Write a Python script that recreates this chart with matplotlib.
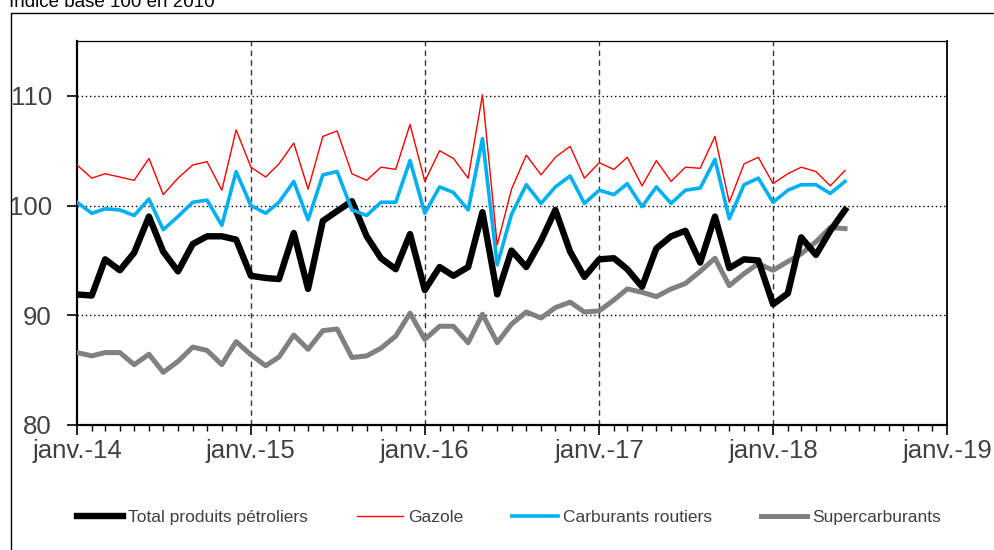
import matplotlib
matplotlib.use("Agg")
import matplotlib.pyplot as plt
import matplotlib.dates as mdates
from matplotlib.lines import Line2D
import pandas as pd

plt.rcParams['font.family'] = ['Liberation Sans', 'DejaVu Sans']

months = pd.date_range('2014-01-01', periods=54, freq='MS')

total = [91.9, 91.8, 95.1, 94.1, 95.7, 99.0, 95.8, 94.0, 96.5, 97.2, 97.2, 96.9,
         93.6, 93.4, 93.3, 97.5, 92.4, 98.6, 99.5, 100.4, 97.2, 95.2, 94.2, 97.4,
         92.3, 94.4, 93.6, 94.4, 99.4, 91.9, 95.9, 94.4, 96.8, 99.6, 95.8, 93.5,
         95.1, 95.2, 94.2, 92.6, 96.1, 97.2, 97.7, 94.8, 99.0, 94.3, 95.1, 95.0,
         91.0, 92.0, 97.1, 95.5, 97.7, 99.6]
gazole = [103.7, 102.5, 102.9, 102.6, 102.3, 104.3, 101.0, 102.5, 103.7, 104.0, 101.4, 106.9,
          103.5, 102.6, 103.8, 105.7, 101.5, 106.3, 106.8, 102.9, 102.3, 103.5, 103.3, 107.4,
          102.2, 105.0, 104.3, 102.5, 110.1, 96.4, 101.5, 104.6, 102.8, 104.4, 105.4, 102.5,
          103.9, 103.3, 104.4, 101.8, 104.1, 102.2, 103.5, 103.4, 106.3, 100.3, 103.8, 104.4,
          102.0, 102.9, 103.5, 103.1, 101.8, 103.2]
routiers = [100.3, 99.3, 99.7, 99.6, 99.1, 100.6, 97.8, 99.0, 100.3, 100.5, 98.2, 103.1,
            100.0, 99.3, 100.3, 102.2, 98.7, 102.8, 103.1, 99.6, 99.1, 100.3, 100.3, 104.1,
            99.3, 101.7, 101.2, 99.6, 106.1, 94.6, 99.2, 101.9, 100.2, 101.7, 102.7, 100.2,
            101.4, 101.0, 102.0, 99.9, 101.7, 100.2, 101.4, 101.6, 104.2, 98.8, 101.9, 102.5,
            100.3, 101.4, 101.9, 101.9, 101.1, 102.2]
super_c = [86.6, 86.3, 86.6, 86.6, 85.5, 86.45, 84.8, 85.8, 87.1, 86.8, 85.5, 87.6,
           86.4, 85.4, 86.2, 88.2, 86.9, 88.6, 88.75, 86.15, 86.3, 87.0, 88.1, 90.2,
           87.8, 89.0, 89.0, 87.5, 90.1, 87.5, 89.2, 90.3, 89.75, 90.7, 91.2, 90.3,
           90.4, 91.4, 92.4, 92.1, 91.7, 92.4, 92.9, 94.0, 95.2, 92.7, 93.8, 94.7,
           94.1, 94.9, 95.6, 96.7, 98.0, 97.9]

labels = ["Total produits pétroliers", "Gazole", "Carburants routiers", "Supercarburants"]
text_color = "#404040"

fig = plt.figure(figsize=(9.95, 5.5), dpi=100)
ax = fig.add_axes([77 / 995, 1 - 425 / 550, (947 - 77) / 995, (425 - 41) / 550])

l1, = ax.plot(months, total, color="black", lw=4.6, zorder=4)
l2, = ax.plot(months, gazole, color="#ff0000", lw=1.0, zorder=5)
l3, = ax.plot(months, routiers, color="#00b0f0", lw=2.6, zorder=4)
l4, = ax.plot(months, super_c, color="#808080", lw=3.6, zorder=3)

ax.set_ylim(80, 115)
ax.set_yticks([80, 90, 100, 110])
ax.set_xlim(pd.Timestamp('2014-01-01'), pd.Timestamp('2019-01-01'))
ax.xaxis.set_major_locator(mdates.YearLocator())
ax.xaxis.set_minor_locator(mdates.MonthLocator())
ax.xaxis.set_major_formatter(mdates.DateFormatter('janv.-%y'))

for y in [90, 100, 110]:
    ax.axhline(y, color="black", lw=1.0, ls=(0, (1, 2)), zorder=1)
for yr in range(2015, 2019):
    ax.axvline(pd.Timestamp(f'{yr}-01-01'), color="#333333", lw=1.0, ls=(0, (4, 3)), zorder=1)

ax.tick_params(axis='y', which='major', direction='out', length=7, width=1.2,
               pad=11, labelsize=18.5, labelcolor=text_color)
ax.tick_params(axis='x', which='major', direction='out', length=7, width=1.2,
               pad=3, labelsize=18.5, labelcolor=text_color)
ax.tick_params(axis='x', which='minor', direction='out', length=4, width=1.0)

ax.spines['left'].set_linewidth(1.6)
ax.spines['bottom'].set_linewidth(1.6)
ax.spines['top'].set_linewidth(0.9)
ax.spines['right'].set_linewidth(1.3)

leg = fig.legend([l1, l2, l3, l4], labels, loc='center left',
                 bbox_to_anchor=(77 / 995, 1 - 517 / 550), ncol=4, frameon=False,
                 fontsize=12.5, handlelength=2.65, handletextpad=0.3,
                 columnspacing=2.8, borderpad=0, borderaxespad=0)
for t in leg.get_texts():
    t.set_color(text_color)

# outer frame around the whole chart
fig.add_artist(Line2D([11 / 995, 11 / 995, 1.0], [0.0, 1 - 13 / 550, 1 - 13 / 550],
                      color="black", lw=1.0, transform=fig.transFigure))

fig.text(9 / 995, 1 - 7 / 550, "Indice base 100 en 2010", fontsize=13.5,
         color="black", ha='left', va='baseline')

fig.savefig("out.png", dpi=100)
